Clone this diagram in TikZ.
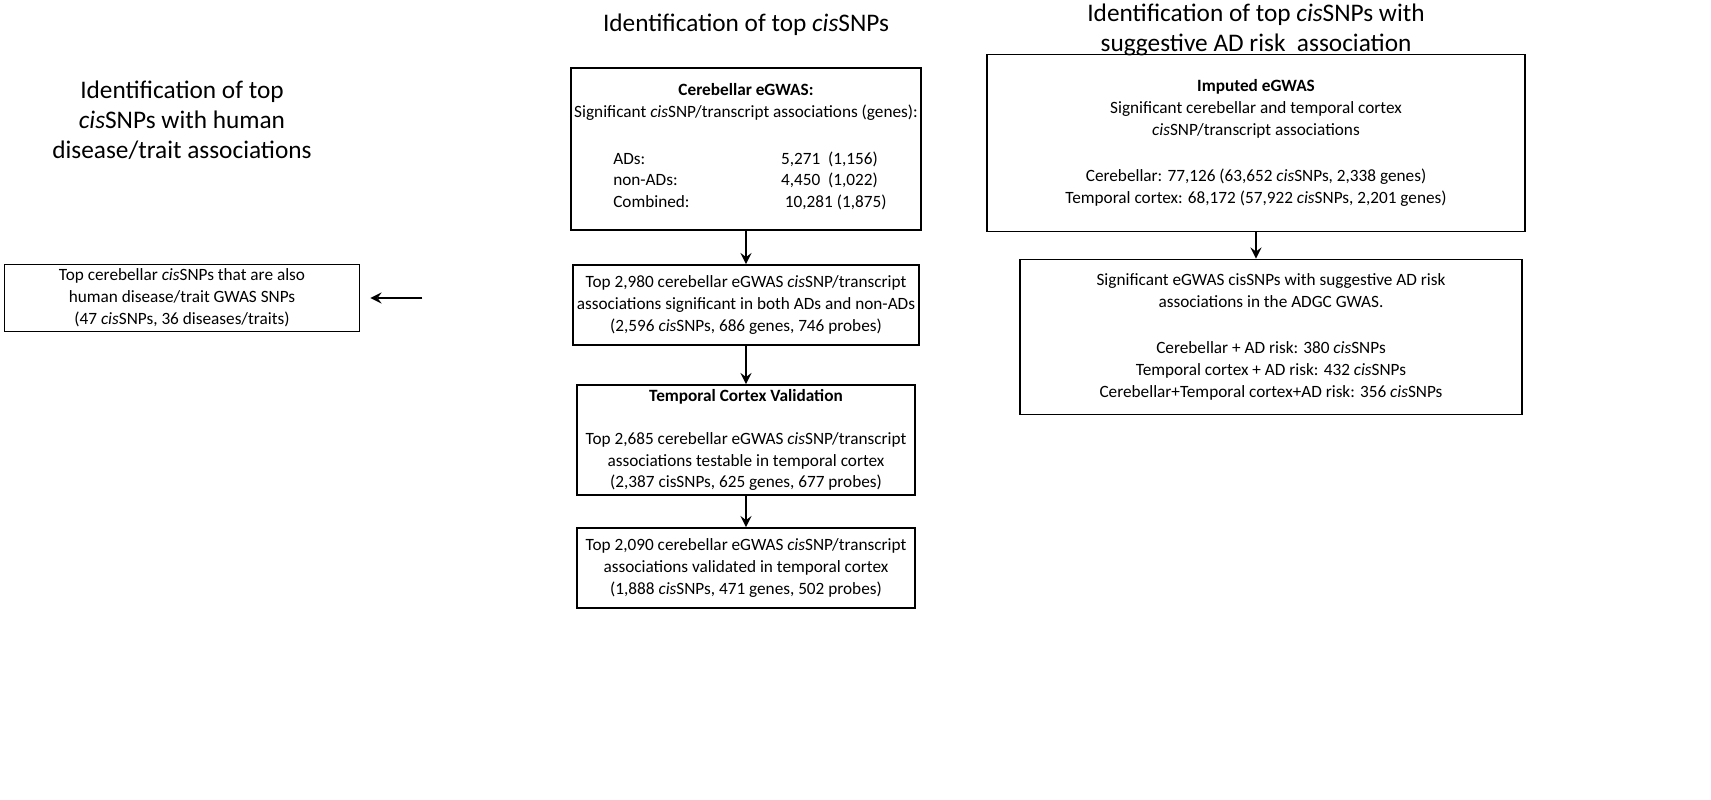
\documentclass[tikz,border=0pt]{standalone}
\usepackage{fontspec}
\setmainfont{Carlito}
\usetikzlibrary{positioning}
\tikzset{
  box/.style={draw, line width=0.5pt, align=center, inner sep=1pt, font=\fontsize{4.9}{6.2}\selectfont},
  ttl/.style={align=center, font=\fontsize{7.2}{8.6}\selectfont},
  arr/.style={->, line width=0.4pt, >=stealth}
}
\newcommand{\cis}{\textit{cis}}
\begin{document}
\begin{tikzpicture}[x=0.01cm, y=-0.01cm]
  \useasboundingbox (0,0) rectangle (1711,800);
  % titles
  \node[ttl] (tmid) at (746,25) {Identification of top \cis SNPs};
  \node[ttl] (tleft) at (182,120) {Identification of top\\\cis SNPs with human\\disease/trait associations};
  \node[ttl] (tright) at (1256,30) {Identification of top \cis SNPs with\\suggestive AD risk\ \ association};

  % middle column
  \node[box, minimum width=3.38cm, minimum height=1.62cm] (cereb) at (746,149)
    {\textbf{Cerebellar eGWAS:}\\Significant \cis SNP/transcript associations (genes):\\[7pt]
     \begin{tabular}{@{}l@{\hspace{26pt}}l@{}}
       \ \ ADs: & 5,271\ \ (1,156)\\
       \ \ non-ADs: & 4,450\ \ (1,022)\\
       \ \ Combined: & \ 10,281 (1,875)
     \end{tabular}};
  \node[box, minimum width=3.38cm, minimum height=0.8cm] (top) at (746,305)
    {Top 2,980 cerebellar eGWAS \cis SNP/transcript\\associations significant in both ADs and non-ADs\\(2,596 \cis SNPs, 686 genes, 746 probes)};
  \node[box, minimum width=3.38cm, minimum height=1.1cm] (valid) at (746,440)
    {\textbf{Temporal Cortex Validation}\\[6pt]Top 2,685 cerebellar eGWAS \cis SNP/transcript\\associations testable in temporal cortex\\(2,387 cisSNPs, 625 genes, 677 probes)};
  \node[box, minimum width=3.38cm, minimum height=0.8cm] (final) at (746,568)
    {Top 2,090 cerebellar eGWAS \cis SNP/transcript\\associations validated in temporal cortex\\(1,888 \cis SNPs, 471 genes, 502 probes)};

  % left column
  \node[box, minimum width=3.55cm, minimum height=0.67cm] (gwas) at (182,298)
    {Top cerebellar \cis SNPs that are also\\human disease/trait GWAS SNPs\\(47 \cis SNPs, 36 diseases/traits)};

  % right column
  \node[box, minimum width=5.38cm, minimum height=1.77cm] (imput) at (1256,143)
    {\textbf{Imputed eGWAS}\\Significant cerebellar and temporal cortex\\\cis SNP/transcript associations\\[7pt]
     Cerebellar: 77,126 (63,652 \cis SNPs, 2,338 genes)\\
     Temporal cortex: 68,172 (57,922 \cis SNPs, 2,201 genes)};
  \node[box, minimum width=5.02cm, minimum height=1.55cm] (risk) at (1271,337)
    {Significant eGWAS cisSNPs with suggestive AD risk\\associations in the ADGC GWAS.\\[7pt]
     Cerebellar + AD risk: 380 \cis SNPs\\
     Temporal cortex + AD risk: 432 \cis SNPs\\
     Cerebellar+Temporal cortex+AD risk: 356 \cis SNPs};

  % connectors
  \draw[arr] (cereb) -- (top);
  \draw[arr] (top) -- (valid);
  \draw[arr] (valid) -- (final);
  \draw[arr, shorten <=1.5cm, shorten >=0.1cm] (top.west |- gwas) -- (gwas.east);
  \draw[arr] (imput.south) -- (imput.south |- risk.north);
\end{tikzpicture}
\end{document}
